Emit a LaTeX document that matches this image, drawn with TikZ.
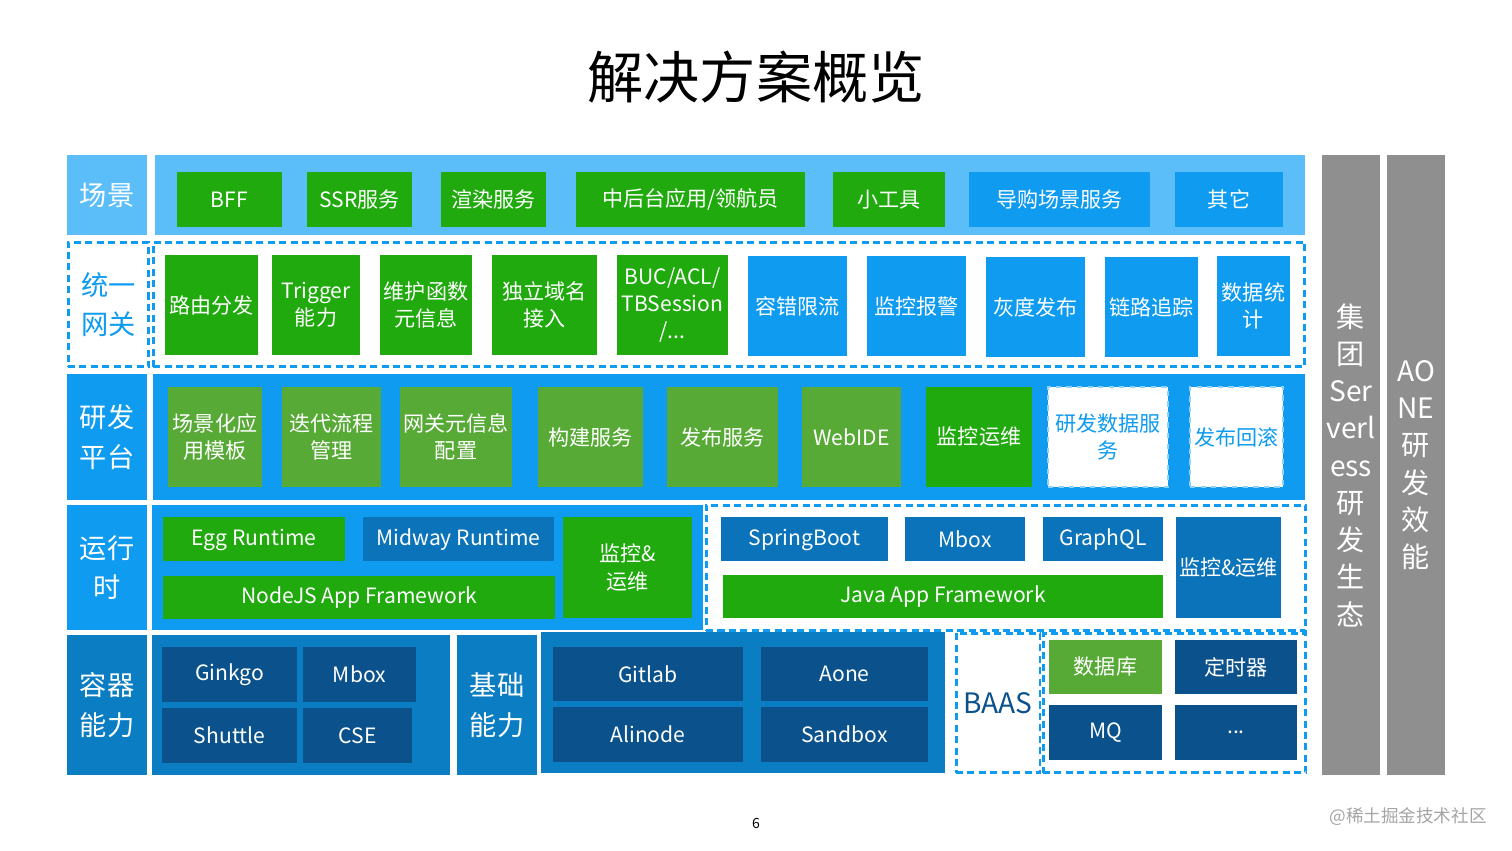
\documentclass[tikz,border=0pt]{standalone}
\usepackage{fontspec}
\setmainfont{Noto Sans CJK SC}
\usepackage{xcolor}
\usepackage{tikz}
\usetikzlibrary{positioning}
\definecolor{skyL}{RGB}{92,190,249}
\definecolor{skyB}{RGB}{14,155,240}
\definecolor{contB}{RGB}{10,125,195}
\definecolor{navyB}{RGB}{11,82,140}
\definecolor{midB}{RGB}{11,115,185}
\definecolor{grnB}{RGB}{32,170,14}
\definecolor{oliveB}{RGB}{88,170,55}
\definecolor{grayB}{RGB}{143,143,143}

\begin{document}
\begin{tikzpicture}[
  x=0.02cm, y=-0.02cm,
  font=\fontsize{12}{15.5}\selectfont,
  cell/.style={inner sep=0pt, outer sep=0pt, text=white},
  ml/.style={align=center},
  dsc/.style={text height=0.73em, text depth=0pt},
  gcell/.style={cell, fill=grnB},
  ocell/.style={cell, fill=oliveB},
  bcell/.style={cell, fill=skyB},
  mcell/.style={cell, fill=midB},
  ncell/.style={cell, fill=navyB},
  wcell/.style={cell, fill=white, text=skyB, draw=skyB!45, dashed, line width=0.6pt},
  lbl/.style={cell, font=\fontsize{15.5}{22.5}\selectfont},
  dbox/.style={cell, draw=skyB, line width=1.7pt, dash pattern=on 4pt off 2.5pt},
  side/.style={cell, fill=grayB, ml, font=\fontsize{16}{21.2}\selectfont}
]
\useasboundingbox[fill=white] (0,0) rectangle (1512,851);

\node[font=\fontsize{32}{36}\selectfont] (title) at (756,77) {解决方案概览};

% 场景
\node[lbl, fill=skyL, minimum width=1.6cm, minimum height=1.6cm] (scenelbl) at (107,195) {场景};
\node[cell, fill=skyL, minimum width=23cm, minimum height=1.6cm] (scenebg) at (730,195) {};
\node[gcell, minimum width=2.1cm, minimum height=1.1cm] (bff) at (229.5,199.5) {BFF};
\node[gcell, minimum width=2.1cm, minimum height=1.1cm] (ssr) at (359.5,199.5) {SSR服务};
\node[gcell, minimum width=2.1cm, minimum height=1.1cm] (render) at (493.5,199.5) {渲染服务};
\node[gcell, minimum width=4.58cm, minimum height=1.1cm] (console) at (690.5,199.5) {中后台应用/领航员};
\node[gcell, minimum width=2.24cm, minimum height=1.1cm] (tool) at (889,199.5) {小工具};
\node[bcell, minimum width=3.62cm, minimum height=1.1cm] (guide) at (1059.5,199.5) {导购场景服务};
\node[bcell, minimum width=2.16cm, minimum height=1.1cm] (other) at (1229,199.5) {其它};

% 统一网关
\node[dbox, lbl, ml, text=skyB, minimum width=1.62cm, minimum height=2.5cm] (gwlbl) at (108.5,304.5) {统一\\网关};
\node[dbox, minimum width=23.04cm, minimum height=2.5cm] (gwbg) at (729,304.5) {};
\node[gcell, minimum width=1.86cm, minimum height=2cm] (route) at (211.5,305) {路由分发};
\node[gcell, ml, minimum width=1.76cm, minimum height=2cm] (trigger) at (316,305) {Trigger\\能力};
\node[gcell, ml, minimum width=1.84cm, minimum height=2cm] (fnmeta) at (426,305) {维护函数\\元信息};
\node[gcell, ml, minimum width=2.1cm, minimum height=2cm] (domain) at (544.5,305) {独立域名\\接入};
\node[gcell, ml, minimum width=2.22cm, minimum height=2cm] (auth) at (672.5,305) {BUC/ACL/\\TBSession\\/...};
\node[bcell, minimum width=1.98cm, minimum height=2cm] (limit) at (797.5,306) {容错限流};
\node[bcell, minimum width=1.98cm, minimum height=2cm] (alarm) at (916.5,306) {监控报警};
\node[bcell, minimum width=1.98cm, minimum height=2cm] (canary) at (1035.5,307) {灰度发布};
\node[bcell, minimum width=1.86cm, minimum height=2cm] (trace) at (1151.5,307) {链路追踪};
\node[bcell, ml, minimum width=1.46cm, minimum height=2cm] (stat) at (1253.5,306) {数据统\\计};

% 研发平台
\node[lbl, ml, fill=skyB, minimum width=1.6cm, minimum height=2.52cm] (devlbl) at (107,437) {研发\\平台};
\node[cell, fill=skyB, minimum width=23.04cm, minimum height=2.52cm] (devbg) at (729,437) {};
\node[ocell, ml, minimum width=1.88cm, minimum height=2cm] (tpl) at (215,437) {场景化应\\用模板};
\node[ocell, ml, minimum width=1.98cm, minimum height=2cm] (iter) at (331.5,437) {迭代流程\\管理};
\node[ocell, ml, minimum width=2.24cm, minimum height=2cm] (gwcfg) at (456,437) {网关元信息\\配置};
\node[ocell, minimum width=2.1cm, minimum height=2cm] (build) at (590.5,437) {构建服务};
\node[ocell, minimum width=2.22cm, minimum height=2cm] (publish) at (722.5,437) {发布服务};
\node[ocell, minimum width=1.98cm, minimum height=2cm] (webide) at (851.5,437) {WebIDE};
\node[gcell, minimum width=2.12cm, minimum height=2cm] (devops) at (979,437) {监控运维};
\node[wcell, ml, minimum width=2.4cm, minimum height=2cm] (devdata) at (1108,437) {研发数据服\\务};
\node[wcell, minimum width=1.86cm, minimum height=2cm] (rollback) at (1236.5,437) {发布回滚};

% 运行时
\node[lbl, ml, fill=skyB, minimum width=1.6cm, minimum height=2.5cm] (rtlbl) at (107,567.5) {运行\\时};
\node[cell, fill=skyB, minimum width=11.02cm, minimum height=2.5cm] (nodebg) at (427.5,567.5) {};
\node[gcell, dsc, minimum width=3.64cm, minimum height=0.88cm] (egg) at (254,539) {Egg Runtime};
\node[mcell, dsc, minimum width=3.82cm, minimum height=0.88cm] (midway) at (458.5,539) {Midway Runtime};
\node[gcell, dsc, minimum width=7.84cm, minimum height=0.86cm] (nodefw) at (359,597.5) {NodeJS App Framework};
\node[gcell, ml, minimum width=2.58cm, minimum height=2.02cm] (nodeops) at (627.5,567.5) {监控\&\\运维};
\node[dbox, minimum width=12cm, minimum height=2.52cm] (javabg) at (1006,568) {};
\node[mcell, dsc, minimum width=3.34cm, minimum height=0.88cm] (spring) at (804.5,539) {SpringBoot};
\node[mcell, minimum width=2.4cm, minimum height=0.88cm] (jmbox) at (965,539) {Mbox};
\node[mcell, dsc, minimum width=2.4cm, minimum height=0.88cm] (graphql) at (1103,539) {GraphQL};
\node[gcell, dsc, minimum width=8.8cm, minimum height=0.86cm] (javafw) at (943,596.5) {Java App Framework};
\node[mcell, minimum width=2.1cm, minimum height=2.02cm] (javaops) at (1228.5,567.5) {监控\&运维};

% 容器能力 / 基础能力
\node[lbl, ml, fill=contB, minimum width=1.6cm, minimum height=2.8cm] (ctlbl) at (107,705) {容器\\能力};
\node[cell, fill=contB, minimum width=5.96cm, minimum height=2.8cm] (ctbg) at (301,705) {};
\node[ncell, dsc, minimum width=2.7cm, minimum height=1.1cm] (ginkgo) at (229.5,674.5) {Ginkgo};
\node[ncell, minimum width=2.26cm, minimum height=1.1cm] (cmbox) at (359.5,674.5) {Mbox};
\node[ncell, minimum width=2.7cm, minimum height=1.1cm] (shuttle) at (229.5,735.5) {Shuttle};
\node[ncell, minimum width=2.18cm, minimum height=1.1cm] (cse) at (357.5,735.5) {CSE};
\node[lbl, ml, fill=contB, minimum width=1.6cm, minimum height=2.8cm] (baselbl) at (497,705) {基础\\能力};
\node[cell, fill=contB, minimum width=8.08cm, minimum height=2.82cm] (basebg) at (743,702.5) {};
\node[ncell, minimum width=3.8cm, minimum height=1.08cm] (gitlab) at (648,674) {Gitlab};
\node[ncell, minimum width=3.34cm, minimum height=1.08cm] (aone) at (844.5,674) {Aone};
\node[ncell, minimum width=3.8cm, minimum height=1.1cm] (alinode) at (648,734.5) {Alinode};
\node[ncell, minimum width=3.34cm, minimum height=1.1cm] (sandbox) at (844.5,734.5) {Sandbox};

% BAAS
\node[dbox, text=navyB, font=\fontsize{16}{20}\selectfont, minimum width=1.68cm, minimum height=2.8cm] (baas) at (998,703) {BAAS};
\node[dbox, minimum width=5.26cm, minimum height=2.8cm] (svcbg) at (1174.5,703) {};
\node[ocell, minimum width=2.26cm, minimum height=1.08cm] (db) at (1105.5,667) {数据库};
\node[ncell, minimum width=2.44cm, minimum height=1.08cm] (timer) at (1236,667) {定时器};
\node[ncell, minimum width=2.26cm, minimum height=1.1cm] (mq) at (1105.5,732.5) {MQ};
\node[ncell, minimum width=2.44cm, minimum height=1.1cm] (more) at (1236,732.5) {...};

% 右侧
\node[side, minimum width=1.16cm, minimum height=12.4cm] (eco) at (1351,465) {集\\团\\Ser\\verl\\ess\\研\\发\\生\\态};
\node[side, minimum width=1.16cm, minimum height=12.4cm] (aoneeff) at (1416,465) {AO\\NE\\研\\发\\效\\能};

\node[font=\fontsize{8}{10}\selectfont] (page) at (756,823) {6};
\node[text=grayB!80, font=\fontsize{10}{12}\selectfont] (mark) at (1408,817) {@稀土掘金技术社区};
\end{tikzpicture}
\end{document}
